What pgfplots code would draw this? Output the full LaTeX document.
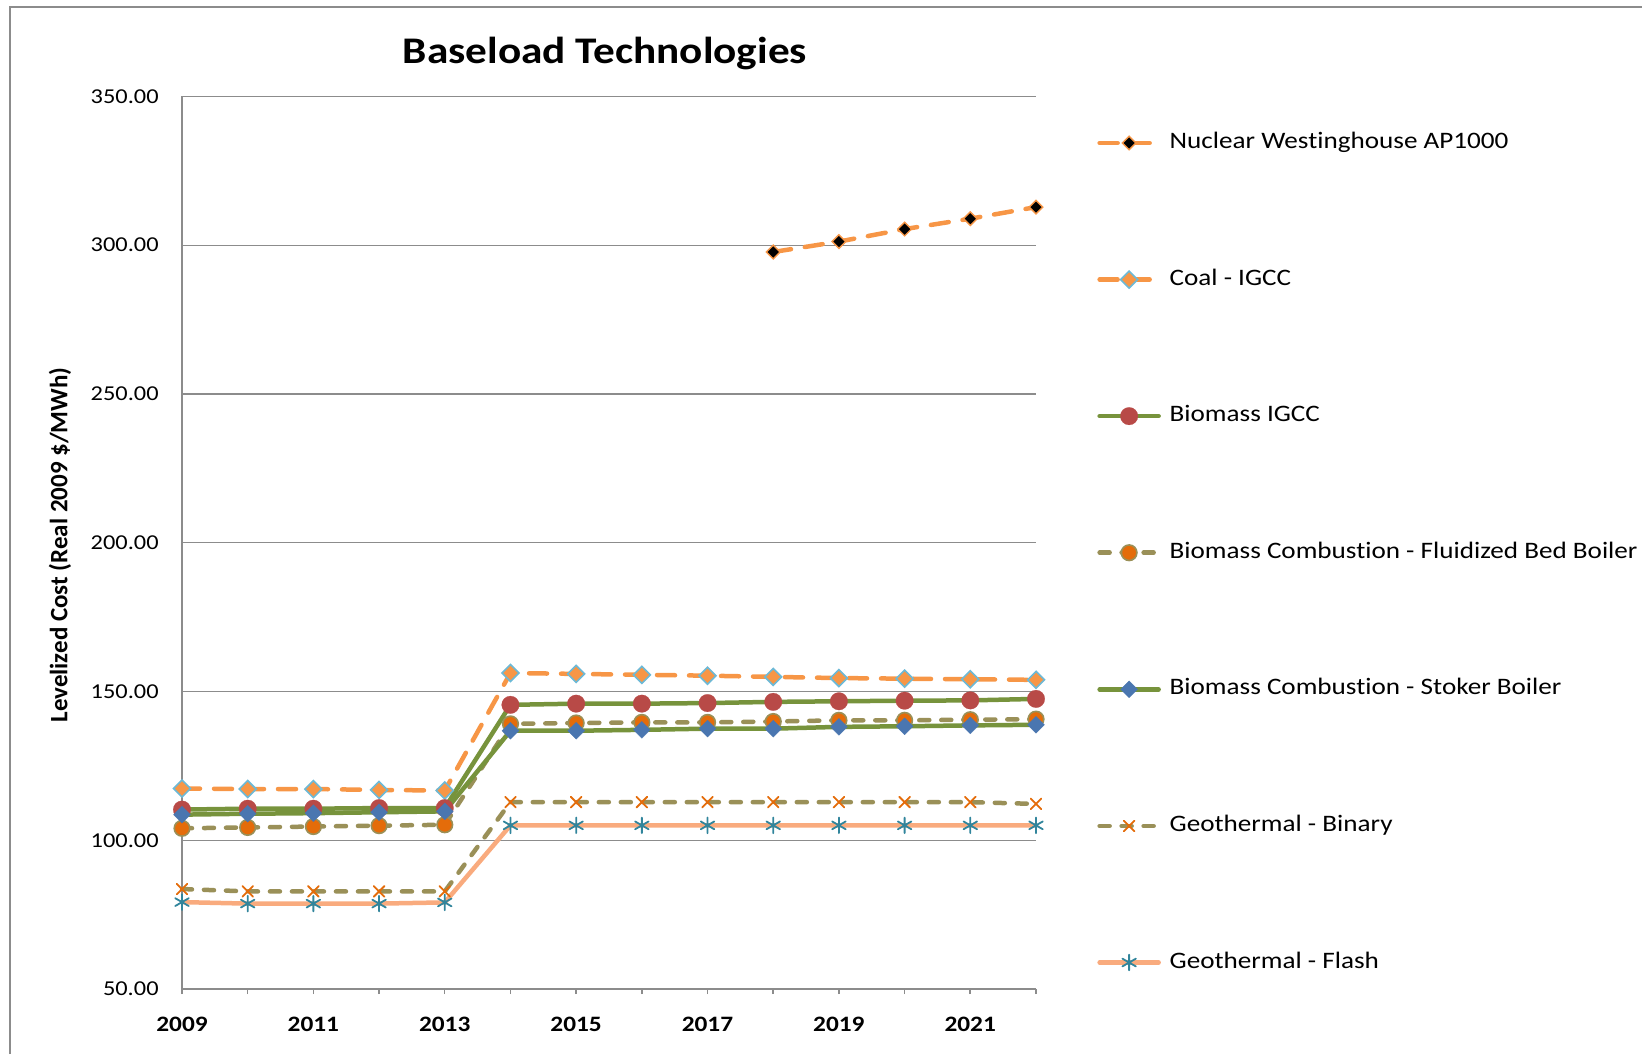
\documentclass[border=0pt]{standalone}
\usepackage{fontspec}
\setmainfont{Carlito}[FakeStretch=1.15, Ligatures=NoCommon]
\newfontfamily\plainfont{Carlito}[Ligatures=NoCommon]
\usepackage{pgfplots}
\usepackage{pgfplotstable}
\pgfplotsset{compat=1.18}

\definecolor{orangeL}{HTML}{F79646}
\definecolor{blueL}{HTML}{6CB9D6}
\definecolor{greenC}{HTML}{77933C}
\definecolor{redC}{HTML}{B84A47}
\definecolor{oliveC}{HTML}{9A9058}
\definecolor{orangeD}{HTML}{E46C0A}
\definecolor{blueD}{HTML}{4A76B0}
\definecolor{salmonC}{HTML}{F9AB7E}
\definecolor{tealC}{HTML}{31859C}
\definecolor{gridgray}{HTML}{8C8C8C}

% levelized cost, real 2009 $/MWh
\pgfplotstableread{
year nuc   coal  bigcc fbb   stoker bin   flash
2009 nan   117.4 110.3 104.0 108.6  83.6  79.2
2010 nan   117.2 110.6 104.3 108.9  82.8  78.7
2011 nan   117.2 110.6 104.6 109.1  82.8  78.7
2012 nan   116.9 110.8 104.9 109.4  82.8  78.7
2013 nan   116.7 110.8 105.2 109.7  82.8  79.1
2014 nan   156.2 145.5 139.1 136.8  112.8 105.0
2015 nan   155.9 145.9 139.4 136.8  112.8 105.0
2016 nan   155.6 145.9 139.6 137.1  112.8 105.0
2017 nan   155.3 146.1 139.6 137.5  112.8 105.0
2018 297.7 154.9 146.5 139.9 137.5  112.8 105.0
2019 301.2 154.5 146.7 140.3 138.1  112.8 105.0
2020 305.4 154.3 146.9 140.3 138.3  112.8 105.0
2021 308.9 154.1 147.0 140.5 138.6  112.8 105.0
2022 312.8 153.9 147.5 140.7 138.8  112.2 105.0
}\costs

\begin{document}
\begin{tikzpicture}
\useasboundingbox (0,0) rectangle (821pt,527pt);
\draw[gridgray, line width=0.75pt] (5pt,0) -- (5pt,523.5pt) -- (821pt,523.5pt);
\begin{axis}[
    scale only axis,
    width=427pt, height=446.3pt,
    at={(91pt,32.5pt)}, anchor=south west,
    xmin=2009, xmax=2022, ymin=50, ymax=350,
    clip=false,
    axis x line*=bottom, axis y line*=left,
    axis line style={-, draw=gridgray, line width=0.75pt},
    xtick={2009,...,2022},
    xticklabels={2009,,2011,,2013,,2015,,2017,,2019,,2021,},
    ytick={50,100,...,350},
    tick align=outside,
    major tick length=2.5pt,
    xtick style={draw=gridgray, line width=0.75pt},
    ytick style={draw=none},
    ymajorgrids,
    grid style={draw=gridgray, line width=0.6pt},
    yticklabel style={font=\fontsize{10.6}{12}\selectfont, anchor=east, inner sep=0pt, xshift=-9pt},
    xticklabel style={font=\fontsize{11}{12}\selectfont\bfseries, anchor=base, inner sep=0pt, yshift=-18.7pt},
    /pgf/number format/.cd, fixed, fixed zerofill, precision=2, assume math mode=true, /pgfplots/.cd,
    ylabel={\plainfont\bfseries Levelized Cost (Real 2009 \$/MWh)},
    ylabel style={at={(axis description cs:-0.1429,0.4974)}, anchor=center, font=\fontsize{12.5}{14}\selectfont},
    title={Baseload Technologies},
    title style={at={(axis description cs:0.4953,1.0344)}, anchor=center, font=\fontsize{18.8}{22}\selectfont\bfseries},
    legend cell align=left,
    legend image code/.code={\draw[mark repeat=2,mark phase=2] plot coordinates {(0pt,0pt) (14.75pt,0pt) (29.5pt,0pt)};},
    legend style={draw=none, fill=none, at={(axis description cs:1.0714,0.9612)}, anchor=north west,
        inner sep=0pt, row sep=56.8pt, column sep=4.4pt,
        nodes={inner sep=0pt, text height=8.5pt, text depth=3pt, font=\fontsize{11.8}{14}\selectfont}},
    every axis plot/.append style={line width=2.25pt, line cap=round},
]
\addplot[orangeL, dash pattern=on 9pt off 7pt, mark=square*, mark size=2.4pt,
    mark options={solid, rotate=45, fill=black, draw=orangeL, line width=0.7pt}]
    table[x=year, y=nuc] {\costs};
\addlegendentry{Nuclear Westinghouse AP1000}
\addplot[orangeL, dash pattern=on 9pt off 7pt, mark=square*, mark size=3pt,
    mark options={solid, rotate=45, fill=orangeL, draw=blueL, line width=0.8pt}]
    table[x=year, y=coal] {\costs};
\addlegendentry{Coal - IGCC}
\addplot[greenC, mark=*, mark size=4.4pt,
    mark options={solid, fill=redC, draw=redC, line width=0.1pt}]
    table[x=year, y=bigcc] {\costs};
\addlegendentry{Biomass IGCC}
\addplot[oliveC, dash pattern=on 5pt off 6pt, mark=*, mark size=3.9pt,
    mark options={solid, fill=orangeD, draw=oliveC, line width=0.8pt}]
    table[x=year, y=fbb] {\costs};
\addlegendentry{Biomass Combustion - Fluidized Bed Boiler}
\addplot[greenC, mark=square*, mark size=3pt,
    mark options={solid, rotate=45, fill=blueD, draw=blueD, line width=0.1pt}]
    table[x=year, y=stoker] {\costs};
\addlegendentry{Biomass Combustion - Stoker Boiler}
\addplot[oliveC, dash pattern=on 5pt off 6pt, mark=x, mark size=3.75pt,
    mark options={solid, draw=orangeD, line width=0.9pt}]
    table[x=year, y=bin] {\costs};
\addlegendentry{Geothermal - Binary}
\addplot[salmonC, mark=asterisk, mark size=3.9pt,
    mark options={solid, draw=tealC, line width=0.9pt}]
    table[x=year, y=flash] {\costs};
\addlegendentry{Geothermal - Flash}
\end{axis}
\end{tikzpicture}
\end{document}
